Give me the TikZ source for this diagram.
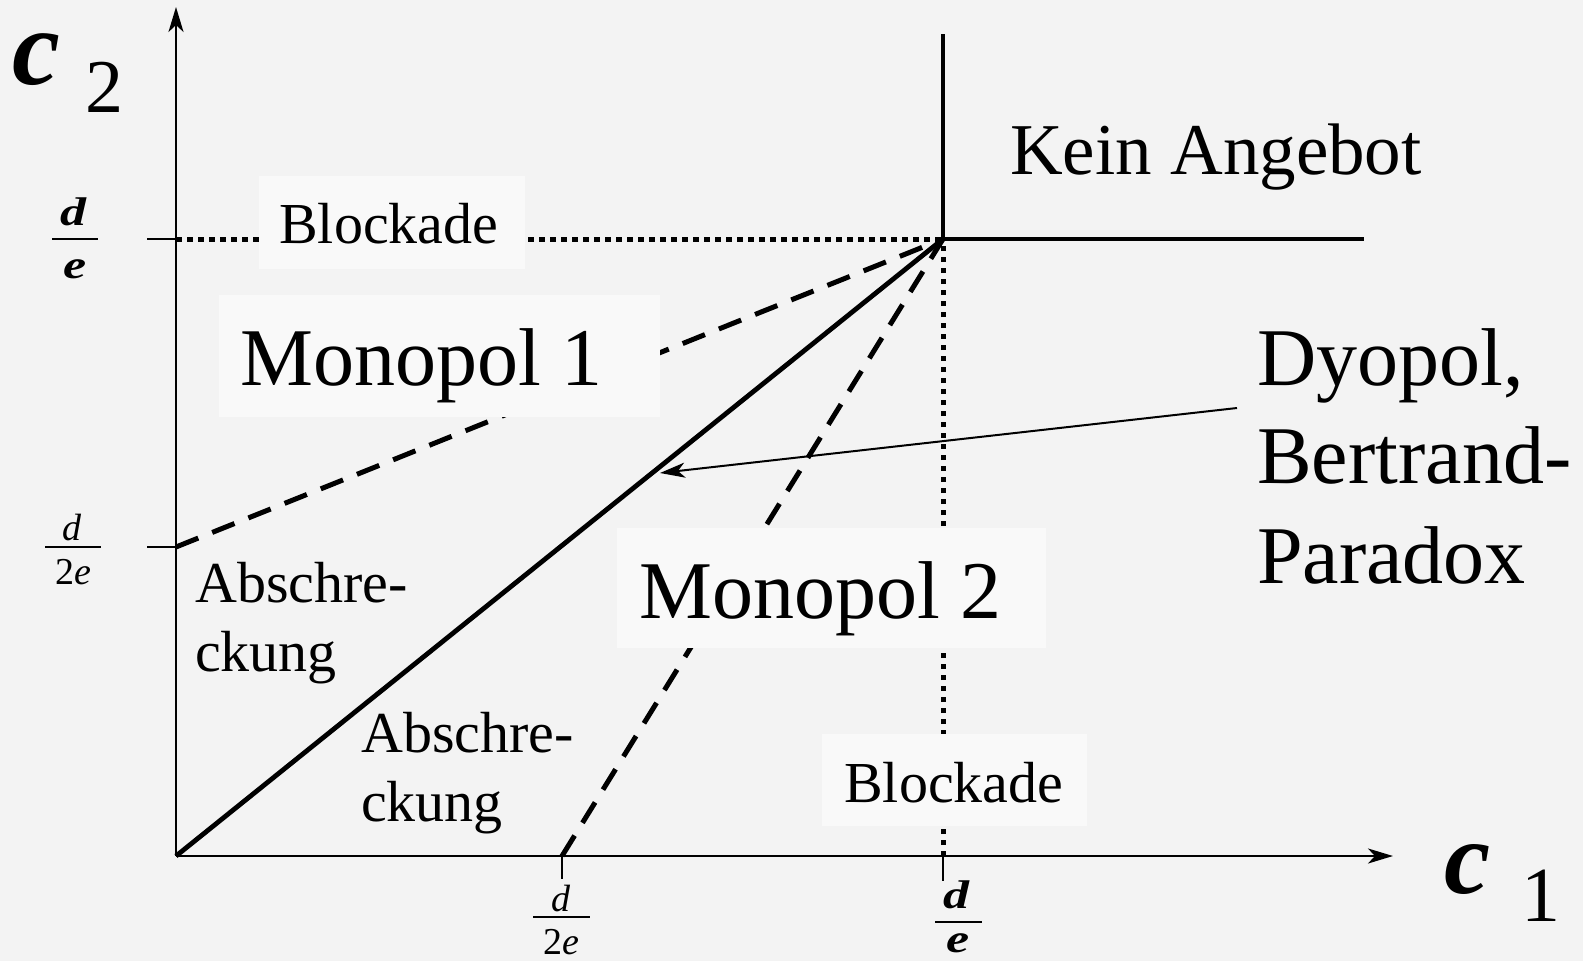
\documentclass[tikz,border=0pt]{standalone}
\usepackage{fontspec}
\setmainfont{Liberation Serif}
\usetikzlibrary{arrows.meta}
\definecolor{bgcol}{HTML}{F3F3F3}
\definecolor{boxcol}{HTML}{F9F9F9}
\newcommand\fsz[1]{\fontsize{#1}{#1}\selectfont}
\newcommand\wide[1]{\scalebox{1.3}[1]{#1}}
\begin{document}
\begin{tikzpicture}[x=1pt,y=-1pt,
  lbl/.style={inner sep=0pt, anchor=base west},
  ctr/.style={inner sep=0pt, anchor=base},
  boxst/.style={fill=boxcol, draw=none, inner sep=0pt},
  dashline/.style={line width=5pt, dash pattern=on 24pt off 15pt},
  dotline/.style={line width=5pt, dash pattern=on 5.5pt off 5.5pt},
  solidline/.style={line width=4.8pt},
  axisline/.style={line width=2.5pt},
  fracbar/.style={line width=2.2pt},
  tip/.style={-{Stealth[length=25pt,width=15pt,inset=7pt]}},
  big/.style={font=\fsz{82}},
  mid/.style={font=\fsz{58}},
  fr/.style={font=\fsz{38}\itshape},
  frb/.style={font=\fsz{40}\bfseries\itshape}]
\fill[bgcol] (0,0) rectangle (1583,961);
\useasboundingbox (0,0) rectangle (1583,961);

\coordinate (O) at (176,856);
\coordinate (P) at (943,239);
\coordinate (Ytop) at (176,7);
\coordinate (Xend) at (1393,856);
\coordinate (Y2) at (176,547);
\coordinate (X2) at (562,856);
\coordinate (Ye) at (176,239);
\coordinate (Xe) at (943,856);
\coordinate (Vtop) at (943,34);
\coordinate (Hend) at (1364,239);
\coordinate (YeT) at (147,239);
\coordinate (Y2T) at (147,547);
\coordinate (X2T) at (562,879);
\coordinate (XeT) at (943,881);
\coordinate (Astart) at (1237,408);
\coordinate (Aend) at (660,473);

% dashed and dotted boundaries
\draw[dashline] (Y2) -- (P);
\draw[dashline] (X2) -- (P);
\draw[dotline] (Ye) -- (P);
\draw[dotline] (Xe) -- (P);

% label boxes
\node[boxst, minimum width=266pt, minimum height=93pt] (b1) at (392,222.5) {};
\node[boxst, minimum width=441pt, minimum height=122pt] (m1) at (439.5,356) {};
\node[boxst, minimum width=429pt, minimum height=120pt] (m2) at (831.5,588) {};
\node[boxst, minimum width=265pt, minimum height=92pt] (b2) at (954.5,780) {};

% texts
\node[lbl, mid] (tb1) at (279,243) {Blockade};
\node[lbl, big] (tm1) at (240,385) {Monopol 1};
\node[lbl, big] (tm2) at (639,618) {Monopol 2};
\node[lbl, mid] (tb2) at (844,802) {Blockade};
\node[lbl, font=\fsz{73}] (tk) at (1010,174) {Kein Angebot};
\node[lbl, big] (td1) at (1257,385) {Dyopol,};
\node[lbl, big] (td2) at (1257,483) {Bertrand-};
\node[lbl, big] (td3) at (1257,583) {Paradox};
\node[lbl, mid] (ta1) at (195,602) {Abschre-};
\node[lbl, mid] (ta2) at (195,671) {ckung};
\node[lbl, mid] (ta3) at (361,752) {Abschre-};
\node[lbl, mid] (ta4) at (361,821) {ckung};

% solid boundaries
\draw[solidline] (O) -- (P);
\draw[solidline] (Vtop) -- (P) -- (Hend);

% axes
\draw[axisline, tip] (O) -- (Ytop);
\draw[axisline, tip] (O) -- (Xend);
\draw[axisline] (YeT) -- (Ye);
\draw[axisline] (Y2T) -- (Y2);
\draw[axisline] (X2) -- (X2T);
\draw[axisline] (Xe) -- (XeT);

% pointer arrow
\draw[line width=2pt, tip] (Astart) -- (Aend);

% axis labels
\node[lbl, font=\fsz{108}\bfseries\itshape] (c2c) at (12,84) {c};
\node[lbl, font=\fsz{76}] (c2n) at (85,112) {2};
\node[lbl, font=\fsz{104}\bfseries\itshape] (c1c) at (1444,893) {c};
\node[lbl, font=\fsz{78}] (c1n) at (1521,921) {1};

% fractions
\node[ctr, frb] (f1n) at (73,225) {\wide{d}};
\draw[fracbar] (52,239) -- (98,239);
\node[ctr, frb] (f1d) at (75,278) {\wide{e}};

\node[ctr, fr] (f2n) at (72,540) {d};
\draw[fracbar] (45,547) -- (101,547);
\node[ctr, font=\fsz{38}] (f2d) at (73,584) {2\textit{e}};

\node[ctr, fr] (f3n) at (561,911) {d};
\draw[fracbar] (533,917) -- (590,917);
\node[ctr, font=\fsz{38}] (f3d) at (561,954) {2\textit{e}};

\node[ctr, frb] (f4n) at (956,908) {\wide{d}};
\draw[fracbar] (935,922) -- (982,922);
\node[ctr, frb] (f4d) at (958,952) {\wide{e}};
\end{tikzpicture}
\end{document}
